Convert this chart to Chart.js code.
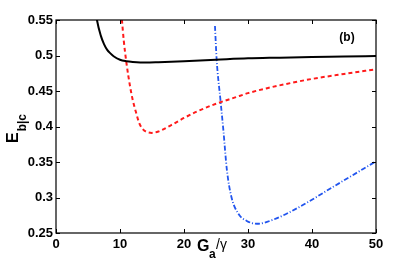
<!DOCTYPE html>
<html>
<head>
<meta charset="utf-8">
<script src="https://cdn.jsdelivr.net/npm/chart.js@4.4.1/dist/chart.umd.min.js"></script>
<style>
  html, body { margin: 0; padding: 0; background: #fff; }
  #wrap { width: 415px; height: 263px; position: relative; }
</style>
</head>
<body>
<div id="wrap"><canvas id="chart"></canvas></div>
<script>
const xTicks = [0, 10, 20, 30, 40, 50];
const yTicks = [0.25, 0.3, 0.35, 0.4, 0.45, 0.5, 0.55];
const yTickLabels = ["0.25", "0.3", "0.35", "0.4", "0.45", "0.5", "0.55"];

const blackX = [6.0, 6.4, 7, 7.5, 8, 8.5, 9, 10, 11, 12, 14, 16, 20, 25, 30, 35, 40, 45, 50];
const blackY = [0.575, 0.55, 0.528, 0.516, 0.508, 0.503, 0.499, 0.494, 0.492, 0.491, 0.490, 0.4905, 0.492, 0.494, 0.496, 0.497, 0.498, 0.4985, 0.4993];

const redX = [10.1, 10.3, 10.6, 11, 11.6, 12, 12.5, 13, 13.5, 14, 15, 16, 18, 20, 22, 25, 28, 30, 33, 36, 40, 45, 50];
const redY = [0.57, 0.55, 0.52, 0.49, 0.455, 0.437, 0.42, 0.405, 0.397, 0.393, 0.391, 0.393, 0.402, 0.412, 0.421, 0.432, 0.441, 0.447, 0.454, 0.460, 0.467, 0.474, 0.4806];

const blueX = [24.84, 25.1, 25.7, 26.15, 26.7, 27.4, 28.5, 29.8, 31.4, 34, 38.1, 43.3, 50];
const blueY = [0.5415, 0.4946, 0.437, 0.395, 0.339, 0.301, 0.277, 0.267, 0.263, 0.269, 0.287, 0.315, 0.351];

const pts = (xs, ys) => xs.map((x, i) => ({ x, y: ys[i] }));

const FONT = "'Liberation Sans', Arial, Helvetica, sans-serif";

const framePlugin = {
  id: "frame",
  afterDraw(chart) {
    const { ctx, chartArea: a, scales } = chart;
    ctx.save();
    ctx.strokeStyle = "#000";
    ctx.lineWidth = 1.2;
    ctx.strokeRect(a.left, a.top, a.right - a.left, a.bottom - a.top);
    const len = 4;
    ctx.beginPath();
    for (const v of xTicks) {
      const px = Math.round(scales.x.getPixelForValue(v)) + 0.5;
      ctx.moveTo(px, a.bottom); ctx.lineTo(px, a.bottom - len);
      ctx.moveTo(px, a.top); ctx.lineTo(px, a.top + len);
    }
    for (const v of yTicks) {
      const py = Math.round(scales.y.getPixelForValue(v)) + 0.5;
      ctx.moveTo(a.left, py); ctx.lineTo(a.left + len, py);
      ctx.moveTo(a.right, py); ctx.lineTo(a.right - len, py);
    }
    ctx.lineWidth = 1;
    ctx.stroke();

    ctx.fillStyle = "#000";
    ctx.textBaseline = "alphabetic";
    ctx.textAlign = "left";
    // x axis title: G_a/γ
    ctx.font = "bold 16px " + FONT;
    ctx.fillText("G", 197, 251);
    ctx.font = "bold 12px " + FONT;
    ctx.fillText("a", 209, 258);
    ctx.font = "14px " + FONT;
    ctx.fillText("/\u03b3", 216, 249);

    // y axis title: E_b|c (rotated)
    ctx.save();
    ctx.translate(18, 143);
    ctx.rotate(-Math.PI / 2);
    ctx.font = "bold 16px " + FONT;
    ctx.fillText("E", 0, 0);
    const ew = ctx.measureText("E").width;
    ctx.font = "bold 12px " + FONT;
    ctx.fillText("b|c", ew + 1, 8);
    ctx.restore();

    // panel label
    ctx.font = "bold 12px " + FONT;
    ctx.textAlign = "center";
    ctx.fillText("(b)", 347, 41);
    ctx.restore();
  }
};

const lineBase = {
  showLine: true,
  pointRadius: 0,
  fill: false,
  tension: 0.4,
  cubicInterpolationMode: "monotone",
  borderWidth: 2,
};

new Chart(document.getElementById("chart"), {
  type: "scatter",
  data: {
    datasets: [
      { ...lineBase, data: pts(blackX, blackY), borderColor: "#000000" },
      { ...lineBase, data: pts(redX, redY), borderColor: "#ff1a1a", borderDash: [4, 3] },
      { ...lineBase, data: pts(blueX, blueY), borderColor: "#2255ee", borderWidth: 1.8, borderDash: [5, 2, 1, 2] },
    ],
  },
  options: {
    responsive: true,
    maintainAspectRatio: false,
    animation: false,
    layout: { padding: { top: 20, right: 39, left: 0, bottom: 0 } },
    plugins: { legend: { display: false }, tooltip: { enabled: false } },
    scales: {
      x: {
        type: "linear",
        min: 0, max: 50,
        afterBuildTicks: (s) => { s.ticks = xTicks.map((v) => ({ value: v })); },
        afterFit: (s) => { s.height = 30; },
        grid: { display: false, drawTicks: false, tickLength: 0 },
        border: { display: false },
        ticks: { color: "#000", padding: 4, font: { family: FONT, size: 13, weight: "bold" }, maxRotation: 0 },
      },
      y: {
        type: "linear",
        min: 0.25, max: 0.55,
        afterBuildTicks: (s) => { s.ticks = yTicks.map((v) => ({ value: v })); },
        afterFit: (s) => { s.width = 56; },
        grid: { display: false, drawTicks: false, tickLength: 0 },
        border: { display: false },
        ticks: {
          color: "#000", padding: 3,
          font: { family: FONT, size: 13, weight: "bold" },
          callback: (v) => yTickLabels[yTicks.findIndex((t) => Math.abs(t - v) < 1e-9)],
        },
      },
    },
  },
  plugins: [framePlugin],
});
</script>
</body>
</html>
